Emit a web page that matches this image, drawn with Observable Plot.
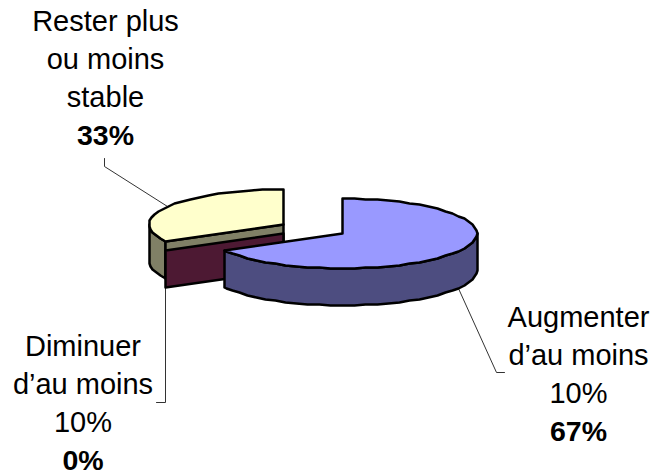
<!DOCTYPE html>
<html>
<head>
<meta charset="utf-8">
<script src="https://cdn.jsdelivr.net/npm/d3@7"></script>
<script src="https://cdn.jsdelivr.net/npm/@observablehq/plot@0.6"></script>
<style>
  html, body { margin: 0; padding: 0; background: #fff; }
  svg { display: block; }
</style>
</head>
<body>
<div id="chart"></div>
<script>
// Survey shares, in the order they run clockwise from twelve o'clock
const categories = ["Augmenter\nd’au moins\n10%", "Diminuer\nd’au moins\n10%", "Rester plus\nou moins\nstable"];
const shares = [67, 0, 33];
const topColors = ["#9999ff", "#993366", "#ffffcc"];
const wallColors = ["#4d4d80", "#4d1933", "#808066"];

// Tilted-disc projection: each slice is pulled away from the others
const rx = 134.5, ry = 35, depth = 37;
const centres = [[342, 233], [283, 233], [283, 224]];
const labelAnchors = [[578, 326], [82.5, 355], [105, 30]];
const leaderElbows = [[[496, 372], [504, 372]], [[165, 402], [156, 402]], [[104, 166], [104, 158]]];
const lineStep = 38.3;
const STEP = 5; // degrees between rim vertices

const total = d3.sum(shares);
let running = 0;
const slices = shares.map((v, i) => {
  const start = running / total * 360;
  running += v;
  return {i, start, end: running / total * 360, mid: (start + running / total * 360) / 2};
});

// Rim point at a clockwise angle from north, snapped to the pixel grid
const rim = (i, deg, drop = 0) => {
  const a = deg * Math.PI / 180;
  return [
    Math.round(centres[i][0] + rx * Math.sin(a)),
    Math.round(centres[i][1] - ry * Math.cos(a)) + drop
  ];
};
const arc = (i, a0, a1, drop = 0) => {
  const pts = [];
  for (let d = a0; d < a1; d += STEP) pts.push(rim(i, d, drop));
  pts.push(rim(i, a1, drop));
  return pts;
};

const polygons = [];
const addPolygon = (pts, fill) => {
  const id = polygons.length ? polygons[polygons.length - 1].id + 1 : 0;
  [...pts, pts[0]].forEach(([x, y]) => polygons.push({id, x, y, fill}));
};

// Back-to-front: rest slice, empty slice, then the large slice
const [up, zero, stable] = slices;

// "Stable" slice: outer wall, cut face, top
addPolygon([...arc(2, stable.start, 270), ...arc(2, stable.start, 270, depth).reverse()], wallColors[2]);
addPolygon([centres[2], rim(2, stable.start),
            rim(2, stable.start, depth), [centres[2][0], centres[2][1] + depth]], wallColors[2]);
addPolygon([centres[2], ...arc(2, stable.start, stable.end)], topColors[2]);

// Zero share still shows its cut face
addPolygon([centres[1], rim(1, zero.start),
            rim(1, zero.start, depth), [centres[1][0], centres[1][1] + depth]], wallColors[1]);

// Large slice: front wall, then top
addPolygon([...arc(0, 90, up.end), ...arc(0, 90, up.end, depth).reverse()], wallColors[0]);
addPolygon([centres[0], ...arc(0, up.start, up.end)], topColors[0]);

// Leaders start on the rim at each slice's middle angle
const leaderStarts = [rim(0, up.mid, depth), rim(1, zero.mid, depth), rim(2, stable.mid)];
const leaders = slices.flatMap(({i}) =>
  [leaderStarts[i], ...leaderElbows[i]].map(([x, y]) => ({i, x, y})));

const textLines = slices.flatMap(({i}) =>
  categories[i].split("\n").map((text, k) => ({
    text, x: labelAnchors[i][0], y: labelAnchors[i][1] + k * lineStep
  })));
const percents = slices.map(({i}) => ({
  text: `${shares[i]}%`,
  x: labelAnchors[i][0],
  y: labelAnchors[i][1] + 3 * lineStep
}));

const chart = Plot.plot({
  width: 652,
  height: 474,
  margin: 0,
  style: {fontFamily: "'Liberation Sans', Arial, sans-serif", background: "#fff"},
  x: {domain: [0, 652], range: [0, 652], axis: null},
  y: {domain: [0, 474], range: [0, 474], axis: null},
  marks: [
    Plot.line(leaders, {x: "x", y: "y", z: "i", stroke: "#333", strokeWidth: 1}),
    Plot.line(polygons, {
      x: "x", y: "y", z: "id", fill: "fill",
      stroke: "#000", strokeWidth: 2.5, strokeLinejoin: "round"
    }),
    Plot.text(textLines, {
      x: "x", y: "y", text: "text", lineAnchor: "bottom",
      fontSize: 29, fill: "#000"
    }),
    Plot.text(percents, {
      x: "x", y: "y", text: "text", lineAnchor: "bottom",
      fontSize: 28.5, fontWeight: "bold", fill: "#000"
    })
  ]
});
document.getElementById("chart").append(chart);
</script>
</body>
</html>
